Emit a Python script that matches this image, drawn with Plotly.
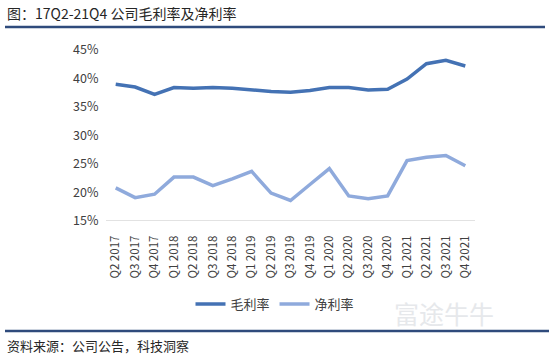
import plotly.graph_objects as go

categories = ["Q2 2017", "Q3 2017", "Q4 2017", "Q1 2018", "Q2 2018", "Q3 2018", "Q4 2018",
              "Q1 2019", "Q2 2019", "Q3 2019", "Q4 2019", "Q1 2020", "Q2 2020", "Q3 2020",
              "Q4 2020", "Q1 2021", "Q2 2021", "Q3 2021", "Q4 2021"]
gross_margin = [39.0, 38.5, 37.2, 38.4, 38.3, 38.4, 38.3, 38.0, 37.7, 37.6, 37.9, 38.4, 38.4,
                38.0, 38.1, 39.9, 42.6, 43.2, 42.2]
net_margin = [20.8, 19.1, 19.7, 22.7, 22.7, 21.2, 22.4, 23.7, 19.9, 18.6, 21.4, 24.2, 19.4,
              18.9, 19.4, 25.6, 26.2, 26.5, 24.7]
y_ticks = [15, 20, 25, 30, 35, 40, 45]

FONT = "Noto Sans CJK SC"
W, H = 549, 357
L, R, T, B = 106, 475, 50, 221  # plot area in px


def px(x):
    return (x - L) / (R - L)


def py(y):
    return (B - y) / (B - T)


fig = go.Figure()
fig.add_trace(go.Scatter(x=categories, y=gross_margin, mode="lines", name="毛利率",
                         line=dict(color="#4472B4", width=3.5)))
fig.add_trace(go.Scatter(x=categories, y=net_margin, mode="lines", name="净利率",
                         line=dict(color="#8FAADC", width=3.5)))

fig.update_layout(
    width=W, height=H,
    margin=dict(l=L, r=W - R, t=T, b=H - B, autoexpand=False),
    paper_bgcolor="white", plot_bgcolor="white",
    font=dict(family=FONT, color="#404040", size=12),
    showlegend=True,
    legend=dict(orientation="h", x=px(275), xanchor="center", y=py(304), yanchor="middle",
                font=dict(size=13, color="#404040"), itemwidth=30, tracegroupgap=0),
    xaxis=dict(type="category", range=[-0.5, len(categories) - 0.5], showgrid=False,
               showline=False, tickangle=-90, tickfont=dict(size=11.5, color="#404040"),
               ticks="outside", ticklen=9, tickcolor="rgba(0,0,0,0)", zeroline=False,
               automargin=False),
    yaxis=dict(range=[15, 45], tickvals=y_ticks, ticktext=[f"{v}%" for v in y_ticks],
               showgrid=False, zeroline=False, showline=False, ticks="outside", ticklen=4,
               tickcolor="rgba(0,0,0,0)", automargin=False,
               tickfont=dict(size=12.5, color="#404040")),
    shapes=[
        dict(type="line", xref="paper", yref="y", x0=0, x1=1, y0=15, y1=15,
             line=dict(color="#D9D9D9", width=1.5)),
        dict(type="line", xref="paper", yref="paper", x0=px(5), x1=px(545), y0=py(27), y1=py(27),
             line=dict(color="#2F4B7C", width=2.5)),
        dict(type="line", xref="paper", yref="paper", x0=px(5), x1=px(549), y0=py(331), y1=py(331),
             line=dict(color="#2F4B7C", width=2.5)),
    ],
    annotations=[
        dict(text="图：17Q2-21Q4 公司毛利率及净利率", xref="paper", yref="paper",
             x=px(5), y=py(13), xanchor="left", yanchor="middle", showarrow=False,
             font=dict(size=14, color="#262626", family=FONT)),
        dict(text="资料来源：公司公告，科技洞察", xref="paper", yref="paper",
             x=px(5), y=py(345), xanchor="left", yanchor="middle", showarrow=False,
             font=dict(size=13, color="#262626", family=FONT)),
        dict(text="富途牛牛", xref="paper", yref="paper",
             x=px(392), y=py(313), xanchor="left", yanchor="middle", showarrow=False,
             font=dict(size=25, color="#E6E8EB", family=FONT)),
    ],
)

fig.write_html("out.html", config={"displayModeBar": False},
               post_script="document.body.style.margin='0';document.body.style.overflow='hidden';")
